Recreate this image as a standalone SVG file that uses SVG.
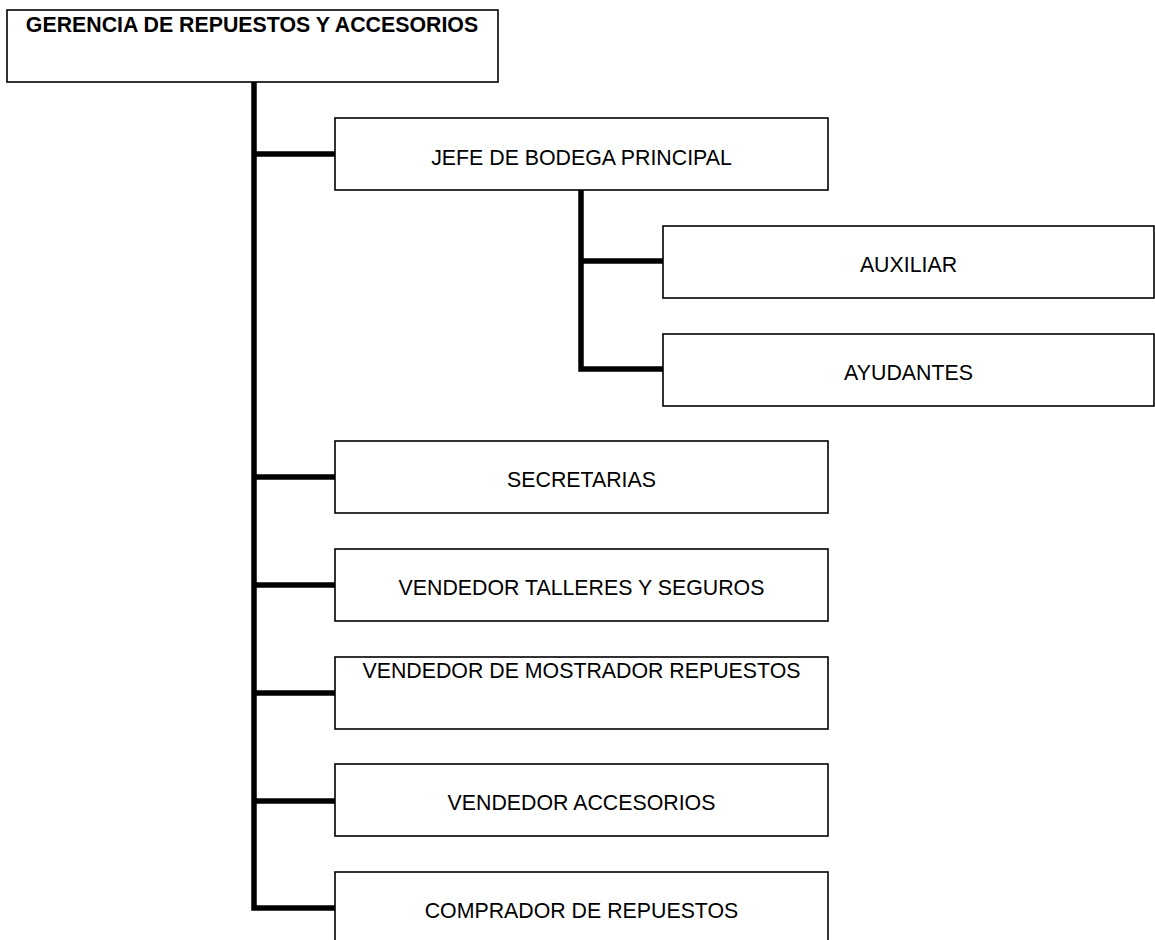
<svg xmlns="http://www.w3.org/2000/svg" width="1155" height="940" viewBox="0 0 1155 940">
  <style>
    .box { fill: #ffffff; stroke: #000000; stroke-width: 1.6; }
    .lbl { font-family: "Liberation Sans", Arial, sans-serif; font-size: 21.33px; fill: #000000; text-anchor: middle; }
    .title { font-weight: bold; }
    .link { fill: none; stroke: #000000; stroke-width: 5.5; stroke-linejoin: miter; stroke-linecap: butt; }
  </style>
  <rect width="1155" height="940" fill="#ffffff"/>

  <!-- connectors -->
  <g id="connectors">
    <path class="link" d="M254 82 V908 H335"/>
    <path class="link" d="M254 154 H335"/>
    <path class="link" d="M254 477 H335"/>
    <path class="link" d="M254 585 H335"/>
    <path class="link" d="M254 693 H335"/>
    <path class="link" d="M254 801 H335"/>
    <path class="link" d="M581 190 V369 H663"/>
    <path class="link" d="M581 261 H663"/>
  </g>

  <!-- top management -->
  <g id="gerencia">
    <rect class="box" x="7" y="10" width="491" height="72"/>
    <text class="lbl title" x="252" y="32">GERENCIA DE REPUESTOS Y ACCESORIOS</text>
  </g>

  <g id="jefe-bodega">
    <rect class="box" x="335" y="118" width="493" height="72"/>
    <text class="lbl" x="581.5" y="165">JEFE DE BODEGA PRINCIPAL</text>
  </g>

  <g id="auxiliar">
    <rect class="box" x="663" y="226" width="491" height="72"/>
    <text class="lbl" x="908.5" y="272">AUXILIAR</text>
  </g>

  <g id="ayudantes">
    <rect class="box" x="663" y="334" width="491" height="72"/>
    <text class="lbl" x="908.5" y="380">AYUDANTES</text>
  </g>

  <g id="secretarias">
    <rect class="box" x="335" y="441" width="493" height="72"/>
    <text class="lbl" x="581.5" y="487">SECRETARIAS</text>
  </g>

  <g id="vendedor-talleres">
    <rect class="box" x="335" y="549" width="493" height="72"/>
    <text class="lbl" x="581.5" y="595">VENDEDOR TALLERES Y SEGUROS</text>
  </g>

  <g id="vendedor-mostrador">
    <rect class="box" x="335" y="657" width="493" height="72"/>
    <text class="lbl" x="581.5" y="678">VENDEDOR DE MOSTRADOR REPUESTOS</text>
  </g>

  <g id="vendedor-accesorios">
    <rect class="box" x="335" y="764" width="493" height="72"/>
    <text class="lbl" x="581.5" y="810">VENDEDOR ACCESORIOS</text>
  </g>

  <g id="comprador">
    <rect class="box" x="335" y="872" width="493" height="80"/>
    <text class="lbl" x="581.5" y="918">COMPRADOR DE REPUESTOS</text>
  </g>
</svg>
